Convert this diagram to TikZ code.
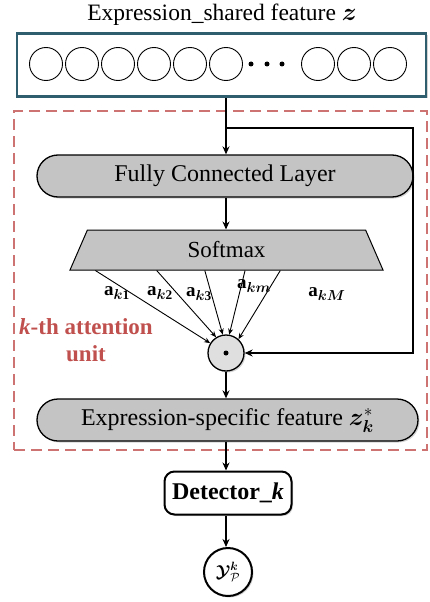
\documentclass[tikz,border=0pt]{standalone}
\usepackage{fontspec}
\usepackage{amsmath}
\usepackage{bm}
\usepackage{tikz}
\setmainfont{Liberation Serif}
\usetikzlibrary{shapes.geometric,arrows.meta,shadows,calc}
\definecolor{unitcolor}{HTML}{C0504D}
\definecolor{boxcolor}{HTML}{2F5F6E}
\definecolor{layercolor}{HTML}{C4C4C4}

\begin{document}
\begin{tikzpicture}[x=1pt, y=-1pt,
  pill/.style={draw, line width=1.3pt, rounded corners=21pt, fill=layercolor,
               minimum height=42pt, font=\fontsize{24}{27}\selectfont,
               drop shadow={shadow xshift=1.5pt, shadow yshift=-1.5pt, opacity=0.35}},
  unit/.style={circle, draw, line width=0.9pt, minimum size=33pt, inner sep=0pt},
  arr/.style={-{Stealth[length=8pt, width=7pt]}, line width=1.2pt},
  warr/.style={-{Stealth[length=6pt, width=5pt]}, line width=0.9pt},
  wlbl/.style={font=\fontsize{19}{20}\selectfont, inner sep=0pt},
]
  \useasboundingbox (0,0) rectangle (429,602);

  % ── Shared feature ─────────────────
  \node[font=\fontsize{23.5}{26}\selectfont] (title) at (222,15)
        {Expression\_shared feature $\bm{z}$};
  \node[draw=boxcolor, line width=2.8pt, minimum width=409pt, minimum height=63pt,
        drop shadow={shadow xshift=1.5pt, shadow yshift=-1.5pt, opacity=0.35},
        fill=white] (feat) at (221.5,65) {};
  \foreach \x [count=\i] in {46,82,118,154,190,226,318,354,390}
    \node[unit] (c\i) at (\x,64) {};
  \foreach \x [count=\i] in {251,267,282}
    \node[circle, fill, inner sep=0pt, minimum size=5pt] (d\i) at (\x,64) {};

  % ── Attention unit ─────────────────
  \node[draw=unitcolor!80, line width=1.4pt, dash pattern=on 11pt off 6pt,
        minimum width=413pt, minimum height=339pt] (att) at (220.5,280.5) {};
  \node[text=unitcolor, font=\bfseries\fontsize{23}{27}\selectfont, align=center]
        (attlbl) at (86,340) {\textit{k}-th attention\\unit};

  \node[pill, minimum width=376pt] (fc) at (225,176) {Fully Connected Layer};
  \node[trapezium, draw, line width=1pt, fill=layercolor, trapezium angle=53,
        trapezium stretches body, minimum width=313pt, minimum height=40pt,
        font=\fontsize{23}{26}\selectfont] (sm) at (226.5,250) {Softmax};
  \node[unit, line width=1.3pt, fill=gray!25, minimum size=36pt,
        drop shadow={shadow xshift=1.5pt, shadow yshift=-1.5pt, opacity=0.35}]
        (dot) at (226,353) {};
  \node[circle, fill, inner sep=0pt, minimum size=5pt] (dotc) at (dot.center) {};
  \node[pill, minimum width=381pt] (spec) at (227.5,420)
        {Expression-specific feature $\bm{z}^{*}_{\bm{k}}$};

  % ── Detector ───────────────────────
  \node[draw, line width=2pt, rounded corners=10pt, fill=white,
        minimum width=127pt, minimum height=43pt,
        font=\bfseries\fontsize{24}{27}\selectfont,
        drop shadow={shadow xshift=1.5pt, shadow yshift=-1.5pt, opacity=0.35}]
        (det) at (228,493) {Detector\_\textit{k}};
  \node[circle, draw, line width=2pt, fill=white, minimum size=48pt, inner sep=0pt,
        font=\fontsize{18}{20}\selectfont,
        drop shadow={shadow xshift=1.5pt, shadow yshift=-1.5pt, opacity=0.35}]
        (out) at (228,572) {$\bm{\mathcal{Y}}^{\bm{k}}_{\mathcal{P}}$};

  % ── Arrows ─────────────────────────
  \coordinate (br) at (226,128);
  \coordinate (rt) at (413,128);
  \draw[line width=1.2pt] (feat.south -| br) -- (br);
  \draw[arr] (br) -- (br |- fc.north);
  \draw[arr] (br) -- (rt) |- (dot.east);
  \draw[arr] (br |- fc.south) -- (br |- sm.top side);
  \draw[arr] (dot.south) -- (dot |- spec.north);
  \draw[arr] (dot |- spec.south) -- (det.north -| dot);
  \draw[arr] (det.south -| dot) -- (out.north -| dot);

  % weights a_k
  \foreach \f/\a [count=\i] in {0.083/148, 0.278/122, 0.431/100, 0.559/80, 0.671/48}
    \draw[warr] ($(sm.bottom left corner)!\f!(sm.bottom right corner)$) -- (dot.\a);
  \node[wlbl] (ak1) at (117,293) {$\mathbf{a}_{\bm{k}\mathbf{1}}$};
  \node[wlbl] (ak2) at (160,293) {$\mathbf{a}_{\bm{k}\mathbf{2}}$};
  \node[wlbl] (ak3) at (199,294) {$\mathbf{a}_{\bm{k}\mathbf{3}}$};
  \node[wlbl] (akm) at (254,286) {$\mathbf{a}_{\bm{k}\bm{m}}$};
  \node[wlbl] (akM) at (327,294) {$\mathbf{a}_{\bm{k}\bm{M}}$};
\end{tikzpicture}
\end{document}
